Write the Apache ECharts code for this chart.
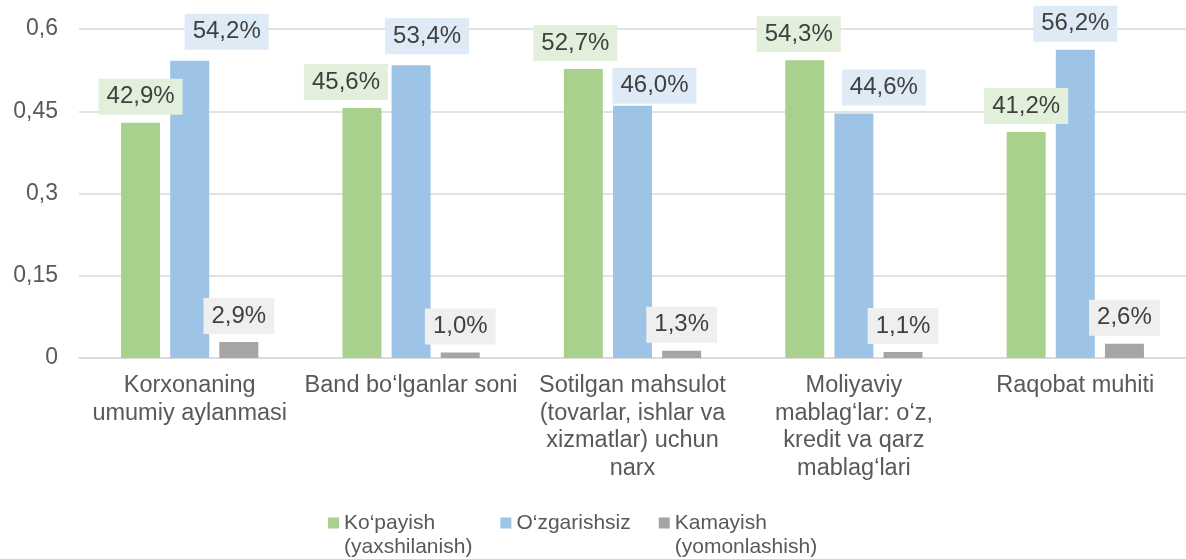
<!DOCTYPE html>
<html>
<head>
<meta charset="utf-8">
<script src="https://cdn.jsdelivr.net/npm/echarts@6/dist/echarts.min.js"></script>
<style>
html, body { margin: 0; padding: 0; background: #fff; }
#barChart { width: 1186px; height: 559px; }
</style>
</head>
<body>
<div id="barChart"></div>
<script>
var categories = [
    'Korxonaning\numumiy aylanmasi',
    'Band bo‘lganlar soni',
    'Sotilgan mahsulot\n(tovarlar, ishlar va\nxizmatlar) uchun\nnarx',
    'Moliyaviy\nmablag‘lar: o‘z,\nkredit va qarz\nmablag‘lari',
    'Raqobat muhiti'
];
var seriesNames = ['Ko‘payish\n(yaxshilanish)', 'O‘zgarishsiz', 'Kamayish\n(yomonlashish)'];
var increase = [0.429, 0.456, 0.527, 0.543, 0.412];
var unchanged = [0.542, 0.534, 0.460, 0.446, 0.562];
var decrease = [0.029, 0.010, 0.013, 0.011, 0.026];
var yMin = 0, yMax = 0.6, yStep = 0.15;

// label nudges so the boxes sit like in the source picture
var increaseShift = [[0, 0], [-16, 0], [-8, 0], [-6, 0], [0, 0]];
var unchangedShift = [[37, -3], [16, -3], [22, 6], [30, 0], [0, 0]];

var barColors = ['#A9D18E', '#9DC3E6', '#A5A5A5'];
var labelBg = ['#E2EFDA', '#DEEBF7', '#EFEFEF'];
var font = 'Liberation Sans, Arial, sans-serif';

function pct(v) {
    return (v * 100).toFixed(1).replace('.', ',') + '%';
}

function withShift(values, shifts) {
    return values.map(function (v, i) {
        var item = { value: v };
        if (shifts && shifts[i]) item.label = { offset: shifts[i] };
        return item;
    });
}

function barSeries(idx, values, shifts) {
    return {
        name: seriesNames[idx],
        type: 'bar',
        barWidth: 39,
        barGap: '26%',
        itemStyle: { color: barColors[idx] },
        label: {
            show: true,
            position: 'top',
            distance: 8,
            formatter: function (p) { return pct(p.value); },
            color: '#404040',
            fontFamily: font,
            fontSize: 24,
            lineHeight: 24,
            backgroundColor: labelBg[idx],
            padding: [6, 8, 6, 8]
        },
        data: withShift(values, shifts)
    };
}

var chart = echarts.init(document.getElementById('barChart'));
var options = {
    animation: false,
    grid: { left: 79, right: -2, top: 29, bottom: 201 },
    legend: {
        left: 323,
        top: 482,
        itemWidth: 11,
        itemHeight: 11,
        itemGap: 28,
        icon: 'rect',
        textStyle: {
            color: '#595959',
            fontFamily: font,
            fontSize: 21,
            lineHeight: 24,
            rich: { p: { fontSize: 21, lineHeight: 24 } }
        },
        // blank first line keeps the icon level with the first text line
        formatter: function (name) {
            return name.indexOf('\n') >= 0 ? '{p| }\n' + name : name;
        },
        data: seriesNames
    },
    xAxis: {
        type: 'category',
        data: categories,
        axisTick: { show: false },
        axisLine: { lineStyle: { color: '#D9D9D9', width: 1.5 } },
        axisLabel: {
            interval: 0,
            margin: 14,
            color: '#595959',
            fontFamily: font,
            fontSize: 23.5,
            lineHeight: 27.5
        }
    },
    yAxis: {
        type: 'value',
        min: yMin,
        max: yMax,
        interval: yStep,
        axisLine: { show: false },
        axisTick: { show: false },
        splitLine: { lineStyle: { color: '#D9D9D9', width: 1.5 } },
        axisLabel: {
            margin: 21,
            color: '#595959',
            fontFamily: font,
            fontSize: 23,
            formatter: function (v) {
                return String(Math.round(v * 100) / 100).replace('.', ',');
            }
        }
    },
    series: [
        barSeries(0, increase, increaseShift),
        barSeries(1, unchanged, unchangedShift),
        barSeries(2, decrease, null)
    ]
};
chart.setOption(options);
</script>
</body>
</html>
